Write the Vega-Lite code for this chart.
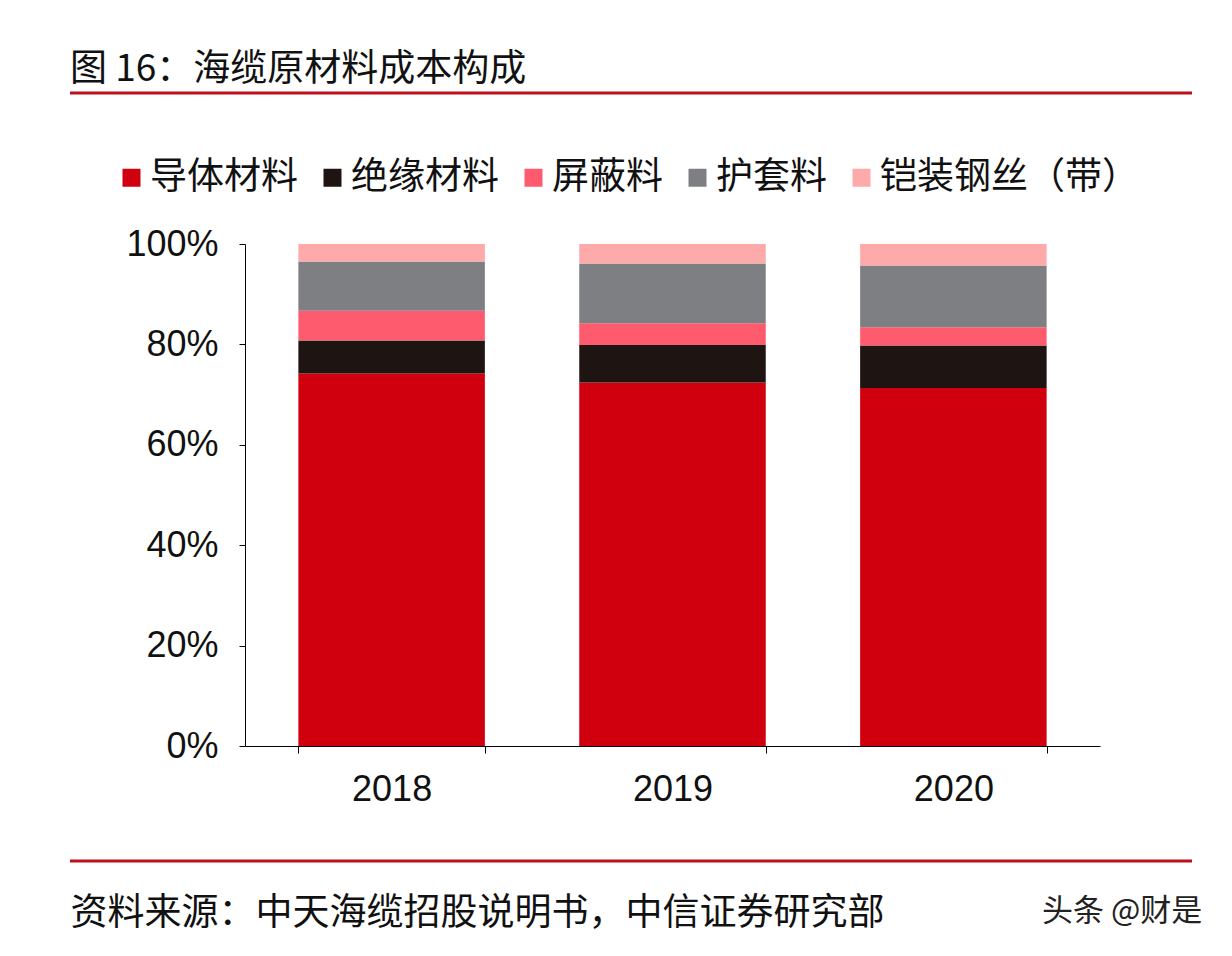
{
  "$schema": "https://vega.github.io/schema/vega-lite/v6.json",
  "width": 855,
  "height": 502,
  "autosize": {"type": "none"},
  "padding": {"left": 245, "top": 244, "right": 132, "bottom": 210},
  "background": "white",
  "config": {"view": {"stroke": null}, "font": "Liberation Sans"},
  "title": {
    "text": "图 16：海缆原材料成本构成",
    "anchor": "start",
    "frame": "group",
    "font": "Noto Sans CJK SC",
    "fontSize": 37,
    "fontWeight": "normal",
    "color": "#111111",
    "dx": -175,
    "dy": 36,
    "baseline": "alphabetic",
    "offset": 10
  },
  "layer": [
    {
      "data": {
        "values": [
          {"year": "2018", "part": "导体材料", "order": 1, "value": 74.2},
          {"year": "2018", "part": "绝缘材料", "order": 2, "value": 6.6},
          {"year": "2018", "part": "屏蔽料", "order": 3, "value": 5.9},
          {"year": "2018", "part": "护套料", "order": 4, "value": 9.8},
          {"year": "2018", "part": "铠装钢丝（带）", "order": 5, "value": 3.5},
          {"year": "2019", "part": "导体材料", "order": 1, "value": 72.4},
          {"year": "2019", "part": "绝缘材料", "order": 2, "value": 7.5},
          {"year": "2019", "part": "屏蔽料", "order": 3, "value": 4.3},
          {"year": "2019", "part": "护套料", "order": 4, "value": 11.9},
          {"year": "2019", "part": "铠装钢丝（带）", "order": 5, "value": 3.9},
          {"year": "2020", "part": "导体材料", "order": 1, "value": 71.3},
          {"year": "2020", "part": "绝缘材料", "order": 2, "value": 8.5},
          {"year": "2020", "part": "屏蔽料", "order": 3, "value": 3.6},
          {"year": "2020", "part": "护套料", "order": 4, "value": 12.3},
          {"year": "2020", "part": "铠装钢丝（带）", "order": 5, "value": 4.3}
        ]
      },
      "mark": {"type": "bar"},
      "encoding": {
        "x": {
          "field": "year",
          "type": "nominal",
          "scale": {"paddingInner": 0.336, "paddingOuter": 0.19},
          "axis": {
            "labelAngle": 0,
            "labelFontSize": 36,
            "labelColor": "#111111",
            "labelPadding": 19,
            "tickBand": "extent",
            "tickSize": 7,
            "tickColor": "#000000",
            "domainColor": "#000000",
            "title": "资料来源：中天海缆招股说明书，中信证券研究部",
            "titleFont": "Noto Sans CJK SC",
            "titleFontSize": 37,
            "titleFontWeight": "normal",
            "titleColor": "#111111",
            "titleAnchor": "start",
            "titleAlign": "left",
            "titleBaseline": "alphabetic",
            "titleX": -175,
            "titleY": 178
          }
        },
        "y": {
          "field": "value",
          "type": "quantitative",
          "stack": "zero",
          "scale": {"domain": [0, 100]},
          "axis": {
            "values": [0, 20, 40, 60, 80, 100],
            "labelExpr": "datum.value + '%'",
            "grid": false,
            "labelFontSize": 36,
            "labelColor": "#111111",
            "labelPadding": 21,
            "tickSize": 6,
            "tickColor": "#000000",
            "domainColor": "#000000",
            "title": null
          }
        },
        "color": {
          "field": "part",
          "type": "nominal",
          "scale": {
            "domain": ["导体材料", "绝缘材料", "屏蔽料", "护套料", "铠装钢丝（带）"],
            "range": ["#D0000E", "#1E1412", "#FF5B6E", "#7E7F82", "#FFAAAA"]
          },
          "legend": {
            "title": null,
            "orient": "none",
            "direction": "horizontal",
            "legendX": -132,
            "legendY": -85,
            "padding": 0,
            "symbolType": "square",
            "symbolSize": 324,
            "symbolStrokeWidth": 0,
            "symbolOpacity": 1,
            "labelFont": "Noto Sans CJK SC",
            "labelFontSize": 37,
            "labelColor": "#111111",
            "labelOffset": 0,
            "columnPadding": 16,
            "labelLimit": 400
          }
        },
        "order": {"field": "order", "type": "quantitative"}
      }
    },
    {
      "data": {"values": [{}]},
      "mark": {"type": "rule", "color": "#BE101C", "strokeWidth": 3},
      "encoding": {"x": {"value": -175}, "x2": {"value": 947}, "y": {"value": -151}}
    },
    {
      "data": {"values": [{}]},
      "mark": {"type": "rule", "color": "#BE101C", "strokeWidth": 3},
      "encoding": {"x": {"value": -175}, "x2": {"value": 947}, "y": {"value": 617}}
    },
    {
      "data": {"values": [{}]},
      "mark": {"type": "text", "font": "Noto Sans CJK SC", "fontSize": 31, "color": "#222222", "align": "left", "baseline": "middle"},
      "encoding": {"x": {"value": 797}, "y": {"value": 668}, "text": {"value": "头条 @财是"}}
    }
  ]
}
